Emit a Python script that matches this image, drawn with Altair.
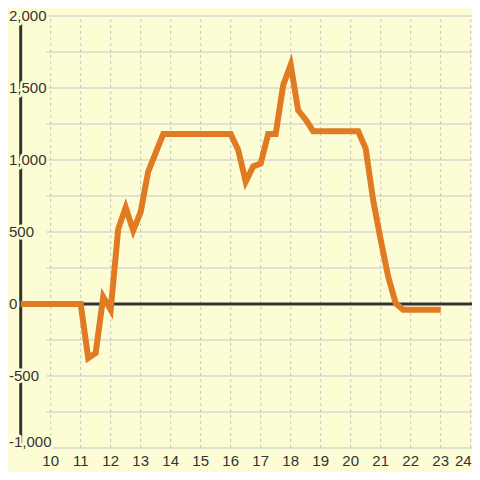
import altair as alt
import pandas as pd

# ---- data ----
times = [9.0, 11.0, 11.25, 11.5, 11.75, 12.0, 12.25, 12.5, 12.75, 13.0, 13.25, 13.5,
         13.75, 16.0, 16.25, 16.5, 16.75, 17.0, 17.25, 17.5, 17.75, 18.0, 18.25,
         18.5, 18.75, 20.25, 20.5, 20.75, 21.0, 21.25, 21.5, 21.75, 23.0]
values = [0, 0, -375, -340, 50, -40, 520, 670, 510, 640, 920, 1050,
          1180, 1180, 1070, 850, 955, 975, 1180, 1180, 1520, 1660, 1345,
          1280, 1200, 1200, 1080, 720, 445, 190, 5, -40, -40]

x_ticks = [10, 11, 12, 13, 14, 15, 16, 17, 18, 19, 20, 21, 22, 23, 24]
x_tick_labels = ["10", "11", "12", "13", "14", "15", "16", "17", "18", "19",
                 "20", "21", "22", "23", "24"]
y_grid = [-1000, -750, -500, -250, 0, 250, 500, 750, 1000, 1250, 1500, 1750, 2000]
y_ticks = [2000, 1500, 1000, 500, 0, -500, -1000]
y_tick_labels = ["2,000", "1,500", "1,000", "500", "0", "-500", "-1,000"]

# ---- layout constants ----
W, H = 464, 464
XD = [8.5767, 24.0433]
YD = [-1166.7, 2055.6]
BG = "#fdfdd5"
FONT = "Liberation Sans"
AXIS_X = 9.0
GRID_X0 = 9.85
YLAB_X = 8.61
XLAB_Y = -1090

xs = alt.Scale(domain=XD, nice=False, zero=False)
ys = alt.Scale(domain=YD, nice=False, zero=False)

line_df = pd.DataFrame({"t": times, "v": values})
hgrid_df = pd.DataFrame({"y": y_grid, "x0": GRID_X0, "x1": XD[1]})
vgrid_df = pd.DataFrame({"x": x_ticks, "y0": -1000, "y1": 2000})
xlab_df = pd.DataFrame({"x": x_ticks, "label": x_tick_labels, "y": XLAB_Y})
ylab_df = pd.DataFrame({"y": y_ticks, "label": y_tick_labels, "x": YLAB_X})
zero_df = pd.DataFrame({"y": [0], "x0": [AXIS_X], "x1": [XD[1]]})
axis_df = pd.DataFrame({"x": [AXIS_X], "y0": [-1000], "y1": [2000]})

hgrid = alt.Chart(hgrid_df).mark_rule(color="#c6c6cc", strokeWidth=1).encode(
    x=alt.X("x0:Q", scale=xs, axis=None), x2="x1:Q",
    y=alt.Y("y:Q", scale=ys, axis=None))

vgrid = alt.Chart(vgrid_df).mark_rule(color="#c2c2ca", strokeWidth=1, strokeDash=[3, 3]).encode(
    x=alt.X("x:Q", scale=xs, axis=None),
    y=alt.Y("y0:Q", scale=ys, axis=None), y2="y1:Q")

zero = alt.Chart(zero_df).mark_rule(color="#333333", strokeWidth=3).encode(
    x=alt.X("x0:Q", scale=xs, axis=None), x2="x1:Q",
    y=alt.Y("y:Q", scale=ys, axis=None))

yaxis = alt.Chart(axis_df).mark_rule(color="#333333", strokeWidth=3).encode(
    x=alt.X("x:Q", scale=xs, axis=None),
    y=alt.Y("y0:Q", scale=ys, axis=None), y2="y1:Q")

line = alt.Chart(line_df).mark_line(color="#e07b24", strokeWidth=6, strokeJoin="miter",
                                     strokeCap="butt").encode(
    x=alt.X("t:Q", scale=xs, axis=None),
    y=alt.Y("v:Q", scale=ys, axis=None))

# the lowest y label sits slightly above its gridline (clear of the x labels)
ylab_base = alt.Chart(ylab_df).transform_calculate(
    yp="datum.y == -1000 ? -955 : datum.y")

ylab_halo = ylab_base.mark_text(align="left", baseline="middle", font=FONT, fontSize=15,
                                color=BG, stroke=BG, strokeWidth=5, strokeJoin="round").encode(
    x=alt.X("x:Q", scale=xs, axis=None), y=alt.Y("yp:Q", scale=ys, axis=None), text="label:N")
ylab = ylab_base.mark_text(align="left", baseline="middle", font=FONT, fontSize=15,
                           color="#333333").encode(
    x=alt.X("x:Q", scale=xs, axis=None), y=alt.Y("yp:Q", scale=ys, axis=None), text="label:N")

xlab_main = alt.Chart(xlab_df).transform_filter("datum.x < 24").mark_text(
    align="center", baseline="middle", font=FONT, fontSize=15, color="#333333").encode(
    x=alt.X("x:Q", scale=xs, axis=None), y=alt.Y("y:Q", scale=ys, axis=None), text="label:N")
xlab_last = alt.Chart(xlab_df).transform_filter("datum.x >= 24").mark_text(
    align="right", baseline="middle", font=FONT, fontSize=15, color="#333333", dx=1).encode(
    x=alt.X("x:Q", scale=xs, axis=None), y=alt.Y("y:Q", scale=ys, axis=None), text="label:N")

chart = alt.layer(hgrid, vgrid, zero, yaxis, line, ylab_halo, ylab, xlab_main, xlab_last).properties(
    width=W, height=H, background=BG, padding=0,
    autosize=alt.AutoSizeParams(type="none")
).configure_view(stroke=None)

chart.save("out.html", embed_options={"renderer": "svg", "actions": False})
